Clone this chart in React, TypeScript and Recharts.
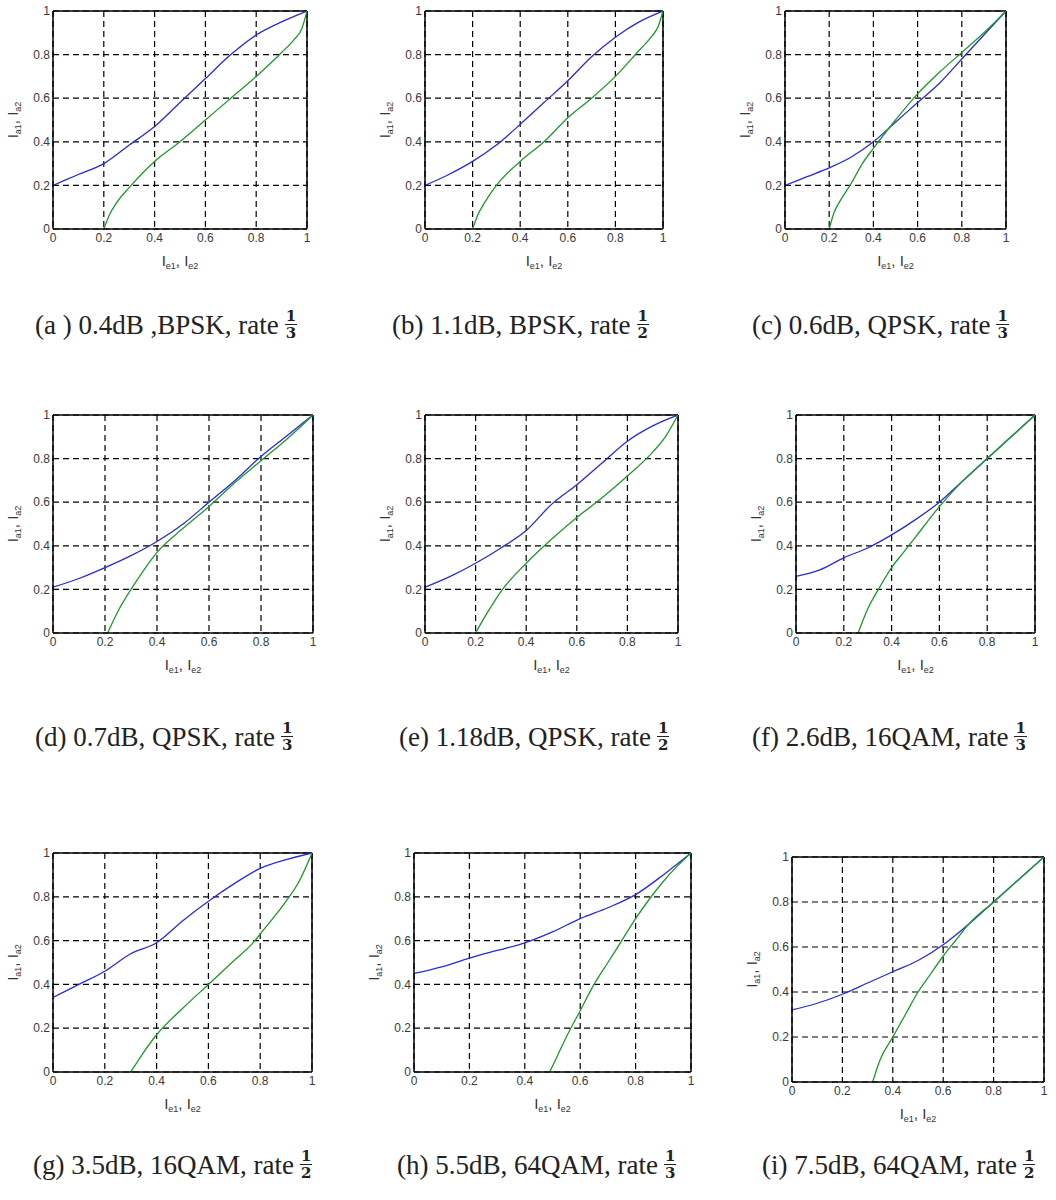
import React from "react";
import { LineChart, Line, XAxis, YAxis, CartesianGrid, ReferenceLine, Label } from "recharts";

// shared axis ticks and sample positions of the blue curve
const ticks = [0, 0.2, 0.4, 0.6, 0.8, 1];
const xGrid = [0, 0.1, 0.2, 0.3, 0.4, 0.5, 0.6, 0.7, 0.8, 0.9, 1];

// blue curves (I_a1 vs I_e1), one value per xGrid point
const blueA = [0.2, 0.25, 0.3, 0.385, 0.47, 0.58, 0.69, 0.8, 0.89, 0.95, 1];
const blueB = [0.2, 0.25, 0.31, 0.385, 0.48, 0.58, 0.68, 0.79, 0.88, 0.95, 1];
const blueC = [0.2, 0.24, 0.28, 0.33, 0.4, 0.49, 0.58, 0.67, 0.78, 0.89, 1];
const blueD = [0.21, 0.25, 0.3, 0.355, 0.42, 0.5, 0.6, 0.7, 0.81, 0.905, 1];
const blueE = [0.21, 0.26, 0.32, 0.39, 0.47, 0.59, 0.68, 0.78, 0.88, 0.95, 1];
const blueF = [0.26, 0.29, 0.345, 0.39, 0.45, 0.52, 0.6, 0.7, 0.8, 0.9, 1];
const blueG = [0.34, 0.4, 0.46, 0.54, 0.59, 0.69, 0.78, 0.86, 0.93, 0.97, 1];
const blueH = [0.45, 0.48, 0.52, 0.555, 0.59, 0.64, 0.7, 0.75, 0.81, 0.9, 1];
const blueI = [0.32, 0.35, 0.39, 0.44, 0.49, 0.54, 0.61, 0.7, 0.8, 0.9, 1];

// green curves (inverse of the second decoder), [x, y] points
const greenA = [[0.2, 0], [0.22, 0.06], [0.25, 0.12], [0.3, 0.19], [0.4, 0.31], [0.5, 0.4], [0.6, 0.5], [0.7, 0.6], [0.8, 0.7], [0.9, 0.81], [0.95, 0.87], [0.98, 0.92], [1, 1]];
const greenB = [[0.2, 0], [0.22, 0.06], [0.25, 0.12], [0.3, 0.2], [0.4, 0.31], [0.5, 0.4], [0.6, 0.51], [0.7, 0.6], [0.8, 0.7], [0.9, 0.82], [0.95, 0.88], [0.98, 0.93], [1, 1]];
const greenC = [[0.2, 0], [0.22, 0.07], [0.25, 0.13], [0.3, 0.21], [0.35, 0.3], [0.4, 0.37], [0.5, 0.5], [0.6, 0.62], [0.7, 0.72], [0.8, 0.81], [0.9, 0.9], [1, 1]];
const greenD = [[0.21, 0], [0.25, 0.1], [0.3, 0.2], [0.35, 0.29], [0.4, 0.37], [0.5, 0.48], [0.6, 0.58], [0.7, 0.69], [0.8, 0.79], [0.9, 0.89], [1, 1]];
const greenE = [[0.2, 0], [0.25, 0.1], [0.3, 0.19], [0.4, 0.32], [0.5, 0.43], [0.6, 0.53], [0.7, 0.62], [0.8, 0.72], [0.9, 0.83], [0.95, 0.9], [1, 1]];
const greenF = [[0.26, 0], [0.3, 0.11], [0.35, 0.21], [0.4, 0.3], [0.45, 0.37], [0.5, 0.44], [0.6, 0.58], [0.7, 0.7], [0.8, 0.8], [0.9, 0.9], [1, 1]];
const greenG = [[0.3, 0], [0.35, 0.09], [0.4, 0.17], [0.5, 0.29], [0.6, 0.4], [0.7, 0.51], [0.78, 0.6], [0.8, 0.63], [0.9, 0.78], [0.95, 0.87], [1, 1]];
const greenH = [[0.49, 0], [0.52, 0.08], [0.55, 0.16], [0.6, 0.28], [0.65, 0.4], [0.7, 0.5], [0.75, 0.6], [0.8, 0.7], [0.85, 0.79], [0.9, 0.87], [0.95, 0.94], [1, 1]];
const greenI = [[0.32, 0], [0.35, 0.1], [0.4, 0.2], [0.45, 0.3], [0.5, 0.4], [0.55, 0.48], [0.6, 0.56], [0.65, 0.63], [0.7, 0.7], [0.8, 0.8], [0.9, 0.9], [1, 1]];

// caption texts
const captions = [
  "(a ) 0.4dB ,BPSK, rate", "(b) 1.1dB, BPSK, rate", "(c) 0.6dB, QPSK, rate",
  "(d) 0.7dB, QPSK, rate", "(e) 1.18dB, QPSK, rate", "(f) 2.6dB, 16QAM, rate",
  "(g) 3.5dB, 16QAM, rate", "(h) 5.5dB, 64QAM, rate", "(i) 7.5dB, 64QAM, rate",
];
const rateDen = ["3", "2", "3", "3", "2", "3", "2", "3", "2"];

// plot boxes [left, top, right, bottom] and caption spots [x, centerY]
const panels = [
  { blue: blueA, green: greenA, box: [53, 11, 307, 229], cap: [35, 325] },
  { blue: blueB, green: greenB, box: [425, 11, 663, 229], cap: [392, 325] },
  { blue: blueC, green: greenC, box: [785, 11, 1006, 229], cap: [752, 325] },
  { blue: blueD, green: greenD, box: [53, 415, 313, 633], cap: [35, 737] },
  { blue: blueE, green: greenE, box: [425, 415, 678, 633], cap: [399, 737] },
  { blue: blueF, green: greenF, box: [796, 415, 1035, 633], cap: [752, 737] },
  { blue: blueG, green: greenG, box: [53, 853, 312, 1072], cap: [33, 1165] },
  { blue: blueH, green: greenH, box: [414, 853, 691, 1072], cap: [397, 1165] },
  { blue: blueI, green: greenI, box: [792, 857, 1044, 1082], cap: [762, 1165] },
];

const LEFT = 52;
const TOP = 10;
const RIGHT = 12;
const BOTTOM = 48;
const sans = "'Liberation Sans', Arial, sans-serif";
const tickFont = { fontFamily: sans, fontSize: 12, fill: "#3a3a3a" };

function XLabel(props: any) {
  const vb = props.viewBox;
  return (
    <text x={vb.x + vb.width / 2} y={vb.y + 37} textAnchor="middle" fontFamily={sans} fontSize={15} fill="#333">
      I<tspan fontSize={9} dy={3}>e1</tspan>
      <tspan dy={-3}>, I</tspan>
      <tspan fontSize={9} dy={3}>e2</tspan>
    </text>
  );
}

function YLabel(props: any) {
  const vb = props.viewBox;
  const cx = vb.x + 17;
  const cy = vb.y + vb.height / 2;
  return (
    <text x={cx} y={cy} transform={`rotate(-90 ${cx} ${cy})`} textAnchor="middle" fontFamily={sans} fontSize={15} fill="#333">
      I<tspan fontSize={9} dy={3}>a1</tspan>
      <tspan dy={-3}>, I</tspan>
      <tspan fontSize={9} dy={3}>a2</tspan>
    </text>
  );
}

function Panel({ blue, green, box }: { blue: number[]; green: number[][]; box: number[] }) {
  const [l, t, r, b] = box;
  const blueData = xGrid.map((x, i) => ({ x, y: blue[i] }));
  const greenData = green.map(([x, y]) => ({ x, y }));
  return (
    <div style={{ position: "absolute", left: l - LEFT, top: t - TOP }}>
      <LineChart
        width={r - l + LEFT + RIGHT}
        height={b - t + TOP + BOTTOM}
        margin={{ top: TOP, right: RIGHT, left: 0, bottom: 0 }}
      >
        <CartesianGrid stroke="#000" strokeWidth={1.2} strokeDasharray="6 4" />
        <XAxis
          dataKey="x"
          type="number"
          domain={[0, 1]}
          ticks={ticks}
          height={BOTTOM}
          tickSize={2}
          tickMargin={2}
          tickLine={false}
          axisLine={{ stroke: "#000", strokeWidth: 1.5 }}
          tick={tickFont}
          allowDataOverflow
        >
          <Label content={<XLabel />} />
        </XAxis>
        <YAxis
          type="number"
          domain={[0, 1]}
          ticks={ticks}
          width={LEFT}
          tickSize={2}
          tickMargin={1}
          tickLine={false}
          axisLine={{ stroke: "#000", strokeWidth: 1.5 }}
          tick={tickFont}
          allowDataOverflow
        >
          <Label content={<YLabel />} />
        </YAxis>
        <ReferenceLine x={1} stroke="#000" strokeWidth={1.5} />
        <ReferenceLine y={1} stroke="#000" strokeWidth={1.5} />
        <Line data={blueData} dataKey="y" type="monotone" stroke="#2a2ad8" strokeWidth={1.3} dot={false} isAnimationActive={false} />
        <Line data={greenData} dataKey="y" type="monotone" stroke="#1d9a2a" strokeWidth={1.3} dot={false} isAnimationActive={false} />
      </LineChart>
    </div>
  );
}

function Caption({ text, den, pos }: { text: string; den: string; pos: number[] }) {
  return (
    <div
      style={{
        position: "absolute",
        left: pos[0],
        top: pos[1] - 22,
        height: 44,
        display: "flex",
        alignItems: "center",
        whiteSpace: "nowrap",
        fontFamily: "'Liberation Serif', 'Times New Roman', serif",
        fontSize: 27,
        color: "#222",
      }}
    >
      <span style={{ lineHeight: "27px" }}>{text}</span>
      <span
        style={{
          display: "inline-flex",
          flexDirection: "column",
          alignItems: "center",
          marginLeft: 6,
          fontFamily: "'DejaVu Serif', serif",
          fontSize: 15,
          fontWeight: "bold",
          lineHeight: "15px",
        }}
      >
        <span>1</span>
        <span style={{ borderTop: "1.5px solid #222", padding: "1px 1px 0" }}>{den}</span>
      </span>
    </div>
  );
}

export default function App() {
  return (
    <div style={{ position: "relative", width: 1056, height: 1200, background: "#fff", overflow: "hidden" }}>
      <style>{"body{margin:0}"}</style>
      {panels.map((p, i) => (
        <Panel key={i} blue={p.blue} green={p.green} box={p.box} />
      ))}
      {panels.map((p, i) => (
        <Caption key={"c" + i} text={captions[i]} den={rateDen[i]} pos={p.cap} />
      ))}
    </div>
  );
}
